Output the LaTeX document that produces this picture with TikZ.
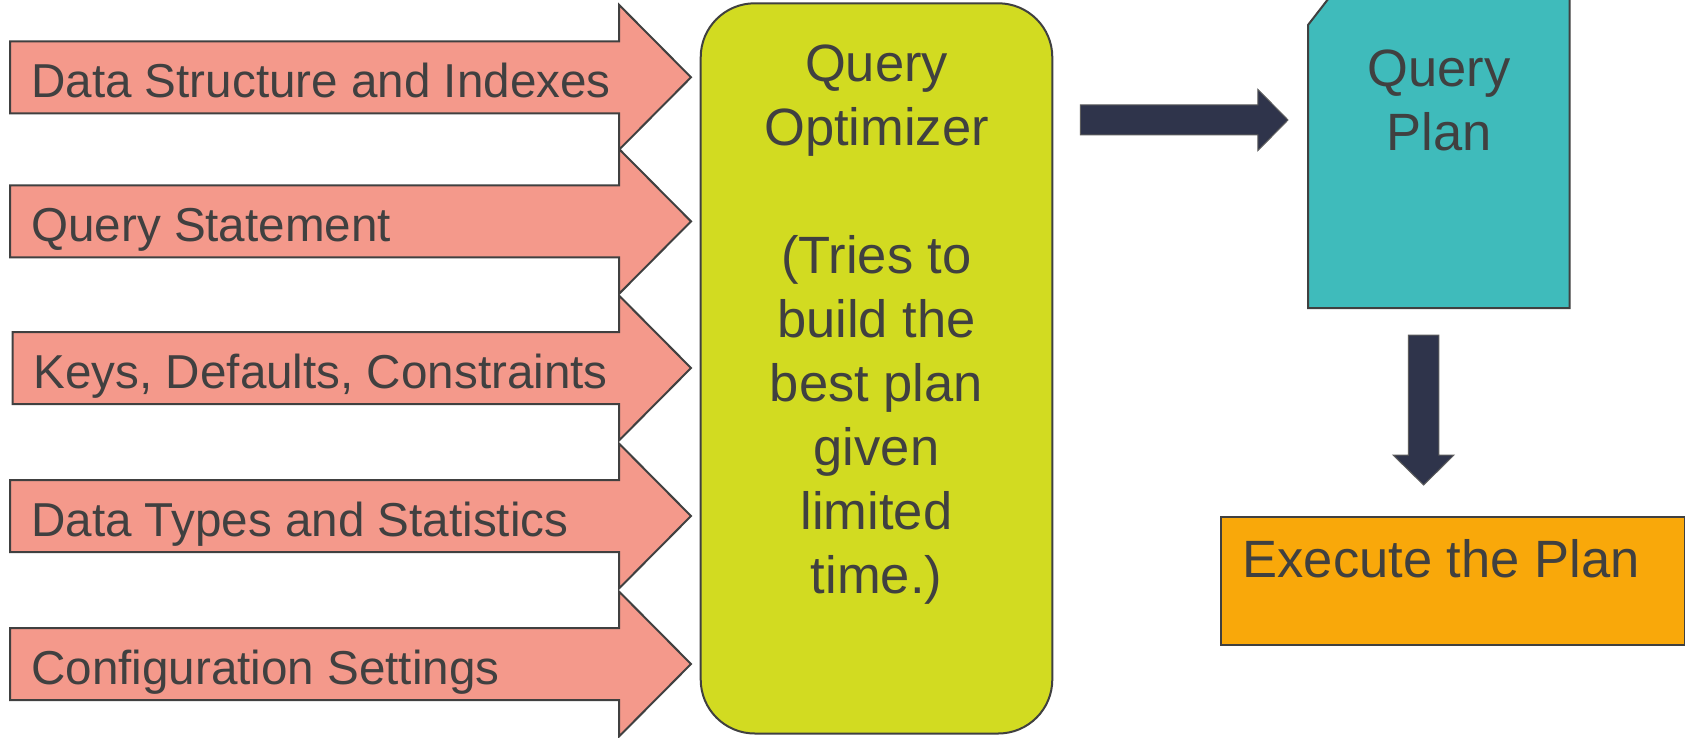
\documentclass[tikz,border=0pt]{standalone}
\usepackage{fontspec}
\setmainfont{Liberation Sans}
\definecolor{salmon}{HTML}{F4998B}
\definecolor{optgreen}{HTML}{D2DB21}
\definecolor{planteal}{HTML}{3FBBBB}
\definecolor{execorange}{HTML}{F9A80A}
\definecolor{navy}{HTML}{2F344B}
\definecolor{txtgray}{HTML}{404040}
\begin{document}
\begin{tikzpicture}[x=1pt,y=-1pt,line join=miter,
  shapeline/.style={draw=txtgray, line width=2pt},
  inarrow/.style={shapeline, fill=salmon},
  intext/.style={anchor=base west, inner sep=0pt, text=txtgray, font=\fontsize{47.6}{57}\selectfont},
  bigtext/.style={inner sep=0pt, text=txtgray, font=\fontsize{52.5}{64}\selectfont},
  darrow/.style={fill=navy, draw=txtgray!85, line width=1pt}]
\useasboundingbox (0,0) rectangle (1685,738);
\fill[white] (0,0) rectangle (1685,738);
% input arrows
\foreach \n/\c/\l/\t in {in1/77.3/10/{Data Structure and Indexes}, in2/221.4/10/{Query Statement}, in3/368/12.5/{Keys, Defaults, Constraints}, in4/516/10/{Data Types and Statistics}, in5/664/10/{Configuration Settings}} {
  \draw[inarrow] (\l,\c-36) -- (619,\c-36) -- (619,\c-72.5) -- (691,\c) -- (619,\c+72.5) -- (619,\c+36) -- (\l,\c+36) -- cycle;
  \node[intext] (\n) at (\l+21,\c+20.3) {\t};
}
% optimizer
\node[shapeline, fill=optgreen, rounded corners=54pt, minimum width=351.6pt, minimum height=730.2pt, inner sep=0pt] (opt) at (876.5,368.4) {};
\node[bigtext, anchor=base] (opttext) at (876.5,81.7) {\begin{tabular}[t]{@{}c@{}}Query\\Optimizer\\~\\(Tries to\\build the\\best plan\\given\\limited\\time.)\end{tabular}};
% query plan
\draw[shapeline, fill=planteal] (1308,308) -- (1308,25) -- (1329.7,-3) -- (1569.6,-3) -- (1569.6,308) -- cycle;
\coordinate (plan) at (1439,155);
\node[bigtext, anchor=base, font=\fontsize{52.5}{63.7}\selectfont] (plantext) at (1439,87) {\begin{tabular}[t]{@{}c@{}}Query\\Plan\end{tabular}};
% execute
\node[shapeline, fill=execorange, minimum width=464pt, minimum height=128.3pt, inner sep=0pt, anchor=north west] (exec) at (1219.5,516) {};
\node[bigtext, anchor=base west] (exectext) at (1242.4,577.3) {Execute the Plan};
% dark arrows
\draw[darrow] (1080.4,105) -- (1257.8,105) -- (1257.8,89.3) -- (1288,120) -- (1257.8,150.7) -- (1257.8,135) -- (1080.4,135) -- cycle;
\draw[darrow] (1408.4,335) -- (1438.8,335) -- (1438.8,455) -- (1454,455) -- (1423.6,485) -- (1393,455) -- (1408.4,455) -- cycle;
\end{tikzpicture}
\end{document}
